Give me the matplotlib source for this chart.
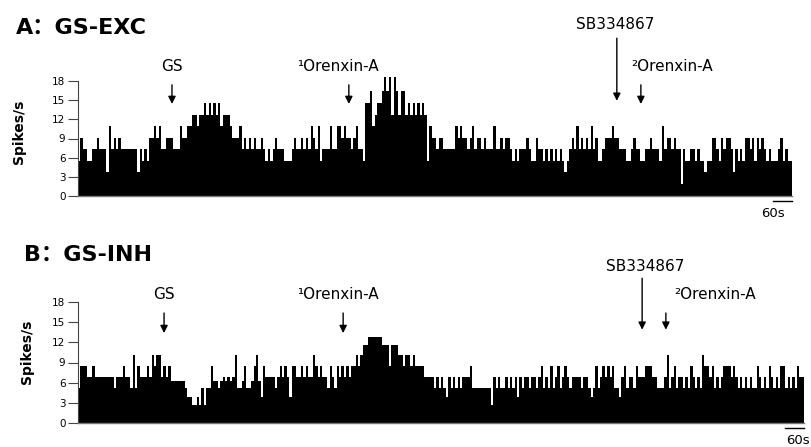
import matplotlib.pyplot as plt

BIN_S = 7.5  # seconds per histogram bin

# spike-rate levels (spikes/s); every character of the
# bin strings picks the level of one bin, left to right
levels_a = {"0": 0.0, "1": 1.8, "2": 3.7, "3": 5.5, "4": 7.3, "5": 9.1,
            "6": 10.9, "7": 12.7, "8": 14.5, "9": 16.4, "A": 18.6}
bins_a = (
    "3544334454442" "64545" "4444444" "24343" "5565644" "555444" "65566"
    "776778787878" "677765556" "4545454454" "34345444333" "454454546546"
    "3444644" "665655456443" "88967889A9A7A9" "7997878787873" "655455444446"
    "565545645545" "44464454554" "3434445433544343434"
    "34323454645454645" "334555655444334" "54433445444364554544"
    "1433443433233" "55435455424343" "55453545434333453433"
)

levels_b = {"1": 2.6, "2": 3.8, "3": 5.2, "4": 6.2, "5": 6.8, "6": 8.5,
            "7": 10.1, "8": 11.6, "9": 12.8}
bins_b = (
    "3666556" "55555555" "35556553" "73655565" "76775656" "4444443"
    "2211213133" "64434545457" "33463346742" "655553565652" "6655656557656"
    "5536536565656" "676788999999888" "688877677676666"
    "55553535325353535556" "33333333" "153533535352" "53553553563536356356"
    "535555355323" "635656563325635" "536555666553335" "735635535365353"
    "766563535666565" "353535336535365" "3536635353655"
)

events = ["GS", "\u00b9Orenxin-A", "SB334867", "\u00b2Orenxin-A"]
times_a = [297, 856, 1703, 1779]
times_b = [272, 838, 1783, 1858]

yticks = [0, 3, 6, 9, 12, 15, 18]

W, H = 812, 447
PX_PER_BIN = 2.373


def box(x0, y_top, x1, y_bot):
    return [x0 / W, 1 - y_bot / H, (x1 - x0) / W, (y_bot - y_top) / H]


def draw_panel(ax, codes, levels, times, arrows, texts, scale_text_dx):
    heights = [levels[c] for c in codes]
    starts = [i * BIN_S for i in range(len(heights))]
    end = len(heights) * BIN_S
    ax.bar(starts, heights, width=BIN_S, align="edge", color="black",
           linewidth=0, clip_on=False)
    ax.set_xlim(0, end)
    ax.set_ylim(0, 18)
    ax.set_yticks(yticks)
    ax.set_xticks([])
    ax.tick_params(axis="y", length=7, width=0.8, color="#444",
                   labelsize=7.5, pad=2)
    for s in ("top", "right"):
        ax.spines[s].set_visible(False)
    ax.spines["left"].set_color("#444")
    ax.spines["left"].set_linewidth(0.8)
    ax.spines["bottom"].set_color("#777")
    ax.spines["bottom"].set_linewidth(1.0)

    for t, (tail, tip), (dx, ty) in zip(times, arrows, texts):
        ax.annotate("", xy=(t, tip), xytext=(t, tail),
                    arrowprops=dict(arrowstyle="-|>", color="black", lw=1.0,
                                    mutation_scale=11, shrinkA=0, shrinkB=0),
                    annotation_clip=False)
    for name, t, (dx, ty) in zip(events, times, texts):
        ax.text(t + dx, ty, name, ha="center", va="center", fontsize=11)

    # 60 s scale bar under the end of the trace
    ax.plot([end - 60, end], [-0.85, -0.85], color="black", lw=1.0,
            clip_on=False)
    ax.text(end + scale_text_dx, -2.7, "60s", ha="center", va="center",
            fontsize=9.5)


fig = plt.figure(figsize=(W / 100, H / 100), dpi=100)

ax_a = fig.add_axes(box(78, 81, 78 + len(bins_a) * PX_PER_BIN, 196))
draw_panel(ax_a, bins_a, levels_a, times_a,
           arrows=[(17.4, 14.4), (17.4, 14.4), (24.7, 14.9), (17.4, 14.4)],
           texts=[(0, 20.2), (-35, 20.2), (-6, 26.9), (98, 20.3)],
           scale_text_dx=-60)

ax_b = fig.add_axes(box(78, 302.3, 78 + len(bins_b) * PX_PER_BIN, 422.7))
draw_panel(ax_b, bins_b, levels_b, times_b,
           arrows=[(16.4, 13.4), (16.4, 13.4), (21.6, 13.9), (16.4, 13.9)],
           texts=[(0, 19.1), (-16, 19.1), (9, 23.3), (155, 19.1)],
           scale_text_dx=-19)

title_font = ["DejaVu Sans", "Noto Sans CJK SC"]
fig.text(16 / W, 1 - 28 / H, "A\uff1aGS-EXC", fontsize=16, fontweight="bold",
         family=title_font, va="center", ha="left")
fig.text(24 / W, 1 - 255 / H, "B\uff1aGS-INH", fontsize=16, fontweight="bold",
         family=title_font, va="center", ha="left")

fig.text(19 / W, 1 - 132 / H, "Spikes/s", rotation=90, fontsize=10,
         fontweight="bold", va="center", ha="center")
fig.text(27 / W, 1 - 352 / H, "Spikes/s", rotation=90, fontsize=10,
         fontweight="bold", va="center", ha="center")

fig.savefig("out.png", dpi=100)
plt.close(fig)
